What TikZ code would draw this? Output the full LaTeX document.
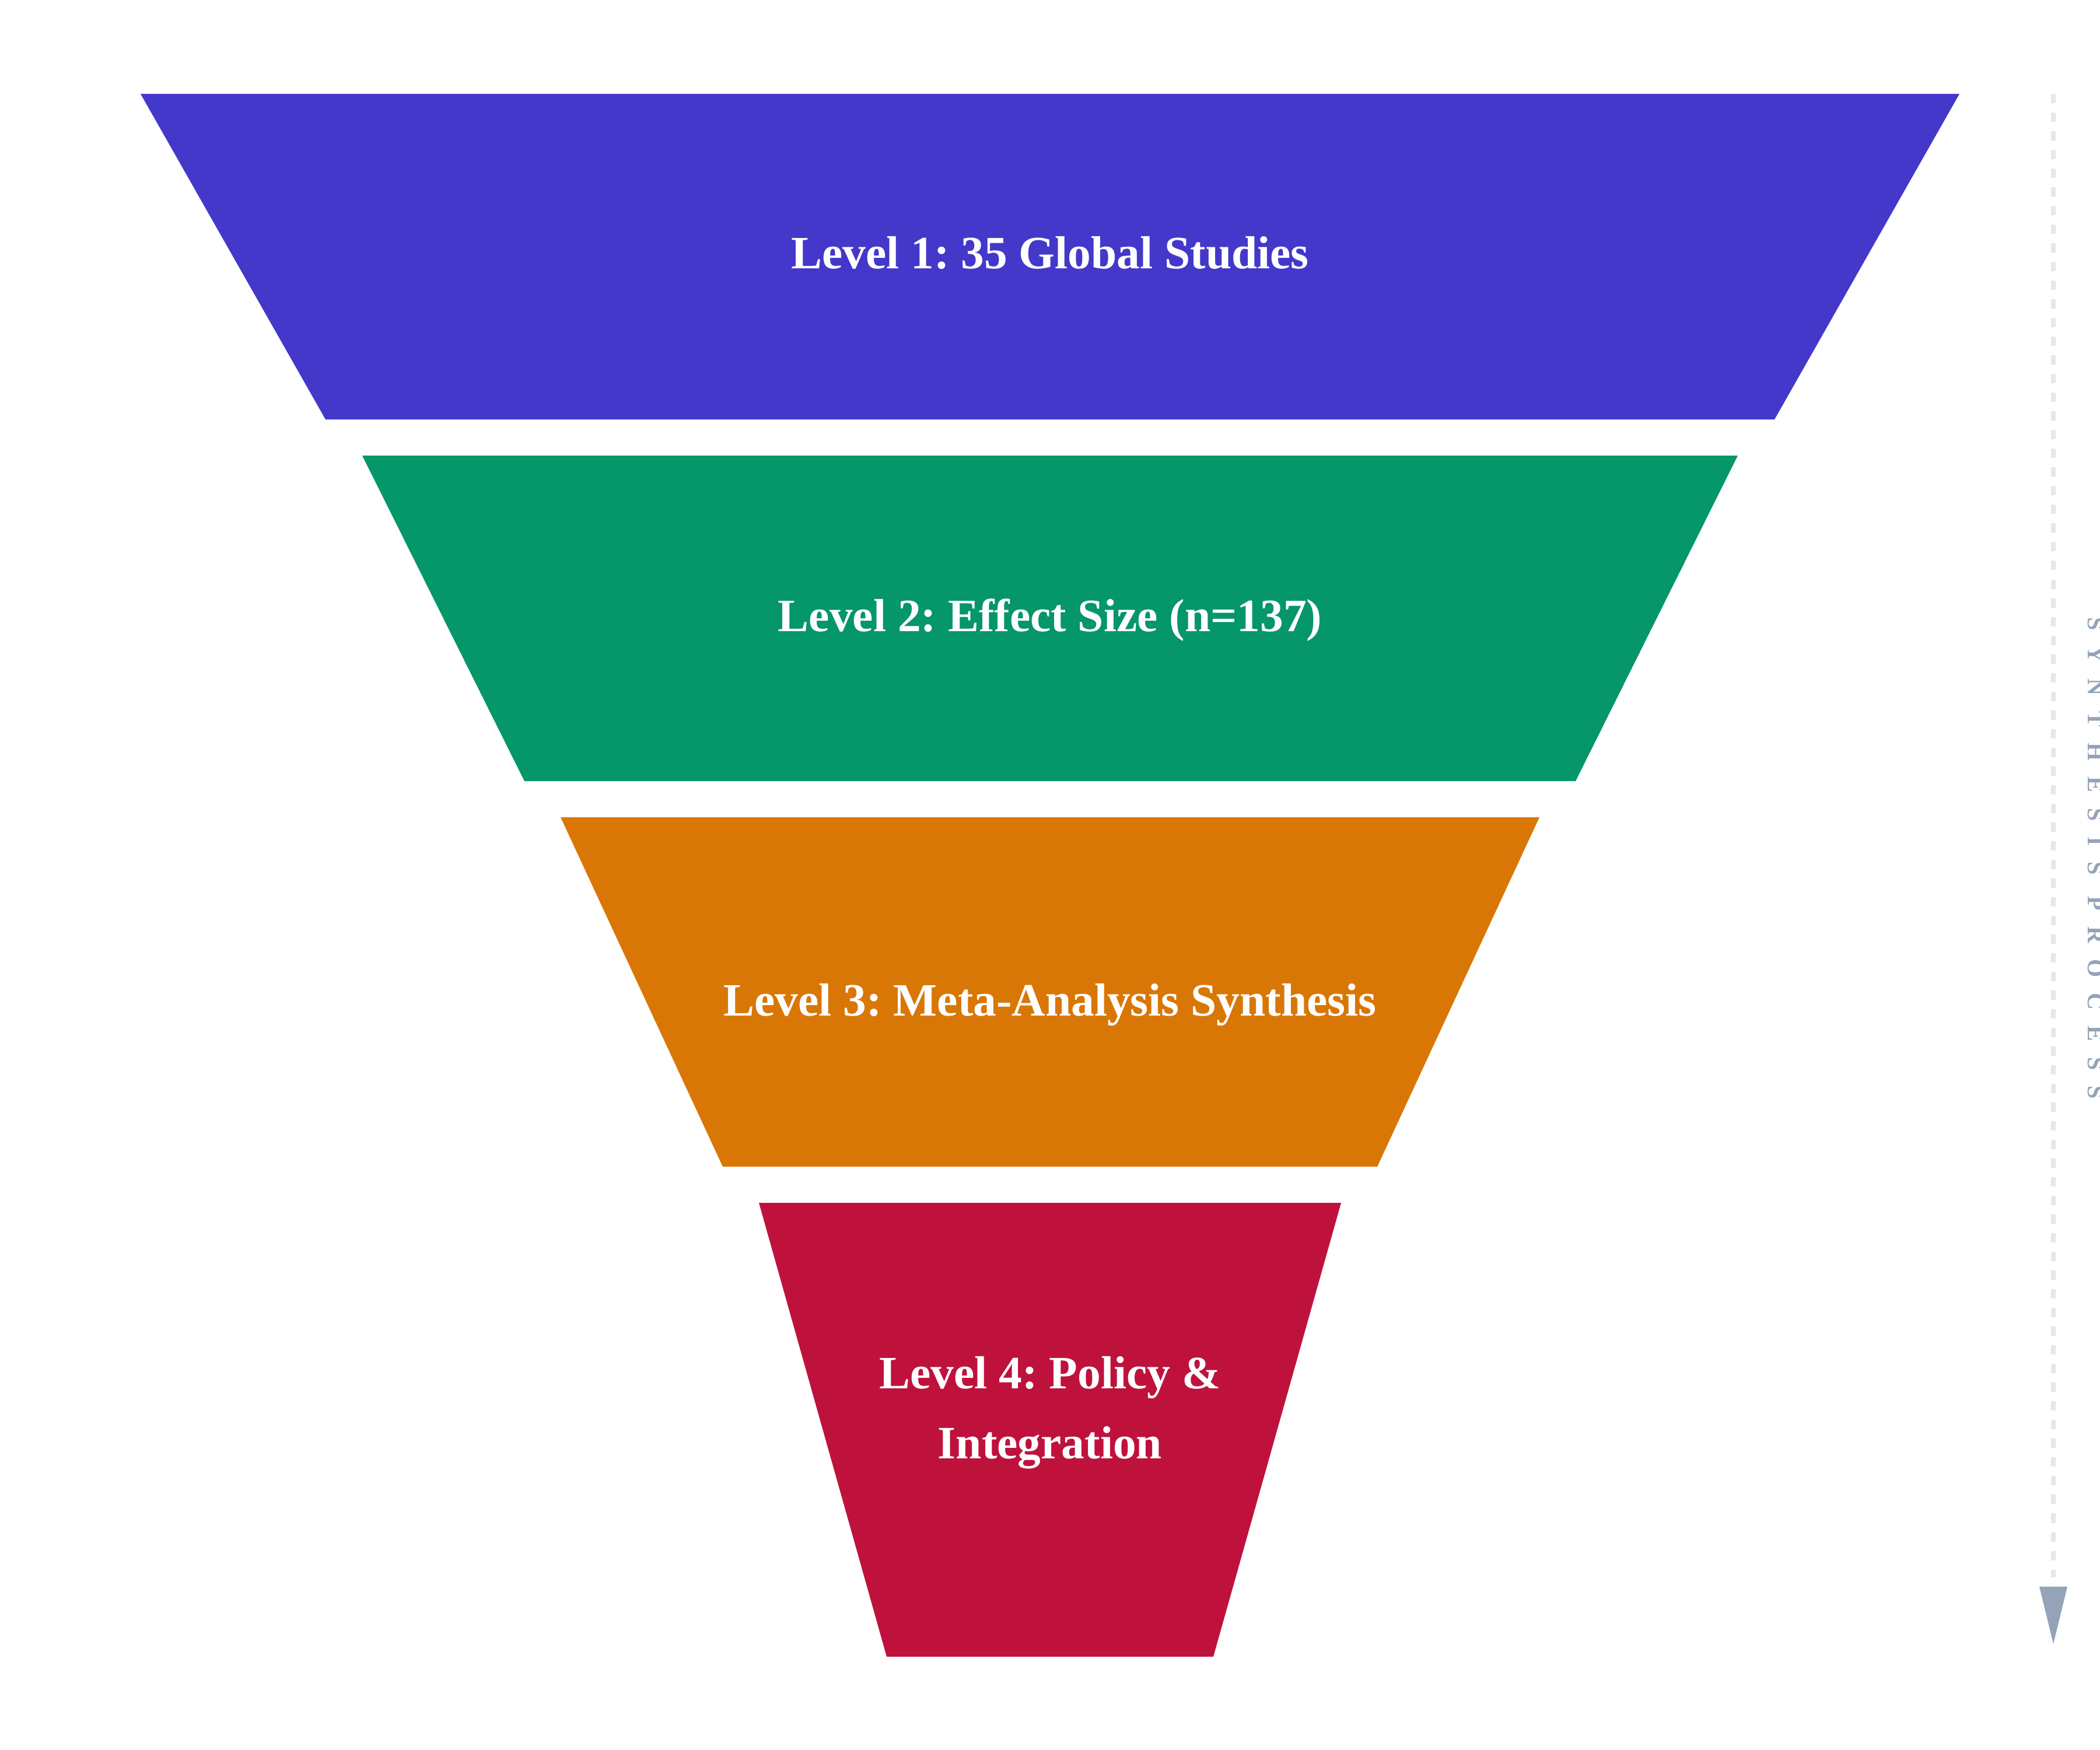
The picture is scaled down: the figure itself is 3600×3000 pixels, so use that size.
\documentclass[tikz,border=0pt]{standalone}
\usepackage{fontspec}
\setmainfont{Liberation Serif}
\usetikzlibrary{positioning, calc}
\definecolor{lvlone}{HTML}{4338CA}
\definecolor{lvltwo}{HTML}{059669}
\definecolor{lvlthree}{HTML}{D97706}
\definecolor{lvlfour}{HTML}{BE123C}
\definecolor{flowdash}{HTML}{E2E8F0}
\definecolor{flowtip}{HTML}{94A3B8}
\frenchspacing

\begin{document}
\begin{tikzpicture}[x=0.01cm, y=-0.01cm,
    level/.style={anchor=base, text=white, align=center,
        font=\fontsize{22.6}{34.1}\selectfont\bfseries},
    flowtext/.style={anchor=base, rotate=-90, text=flowtip,
        font=\fontsize{11.4}{14}\selectfont\bfseries\addfontfeature{LetterSpace=67.5}}]
\useasboundingbox (0,0) rectangle (3600,3000);
\foreach \col/\top/\bot/\tw/\bw in {lvlone/161/719/1559/1242,
        lvltwo/781/1339/1179/901, lvlthree/1401/2000/839/561,
        lvlfour/2062/2840/499/280}
    \fill[\col] (1800-\tw,\top) -- (1800+\tw,\top) -- (1800+\bw,\bot)
        -- (1800-\bw,\bot) -- cycle;
\node[level] (lone) at (1800,460) {Level 1: 35 Global Studies};
\node[level] (ltwo) at (1800,1082) {Level 2: Effect Size (n=137)};
\node[level] (lthree) at (1800,1741) {Level 3: Meta-Analysis Synthesis};
\node[level] (lfour) at (1800,2500) {Level 4: Policy \&\\Integration};
% synthesis arrow
\coordinate (flowtop) at (3520,161);
\coordinate (flowend) at (3520,2704);
\draw[flowdash, line width=0.08cm, dash pattern=on 0.16cm off 0.16cm]
    (flowtop) -- (flowend);
\fill[flowtip] (3496,2720) -- (3544,2720) -- (3520,2818) -- cycle;
\node[flowtext] (flowlabel) at (3579,1471) {SYNTHESIS PROCESS};
\end{tikzpicture}
\end{document}
